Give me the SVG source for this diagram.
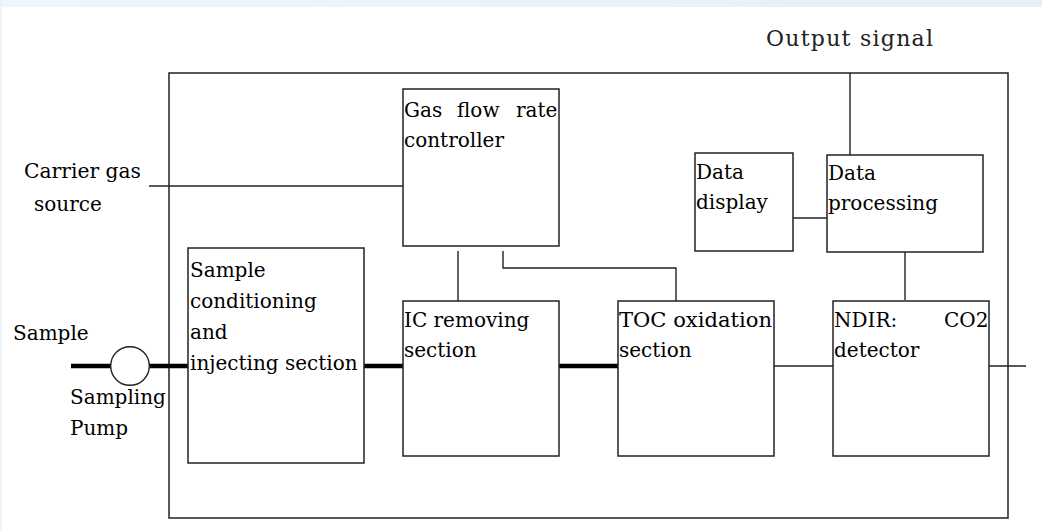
<svg xmlns="http://www.w3.org/2000/svg" width="1042" height="531" viewBox="0 0 1042 531">
<defs>
<linearGradient id="band" x1="0" y1="0" x2="1" y2="0">
<stop offset="0" stop-color="#F0F5FC"/>
<stop offset="1" stop-color="#E5EFFA"/>
</linearGradient>
<style>
.box{fill:#fff;stroke:#222;stroke-width:1.5}
.ln{fill:none;stroke:#222;stroke-width:1.4}
.thick{fill:none;stroke:#000;stroke-width:4.5}
text{font-family:"DejaVu Serif","Liberation Serif",serif;font-size:20px;fill:#000}
.lbl{fill:#222;font-size:22px}
</style>
</defs>
<rect x="0" y="0" width="1042" height="531" fill="#fff"/>
<rect x="0" y="0" width="1042" height="7" fill="url(#band)"/>
<rect x="0" y="0" width="2" height="531" fill="#EEF3FA"/>

<rect id="frame" x="169" y="73" width="839" height="445" fill="none" stroke="#222" stroke-width="1.5"/>

<g id="connectors">
<line class="ln" x1="149" y1="186" x2="403" y2="186"/>
<line class="thick" x1="71" y1="366" x2="111" y2="366"/>
<line class="thick" x1="149" y1="366" x2="188" y2="366"/>
<line class="thick" x1="364" y1="366" x2="403" y2="366"/>
<line class="thick" x1="559" y1="366" x2="618" y2="366"/>
<line class="ln" x1="774" y1="366" x2="833" y2="366"/>
<line class="ln" x1="989" y1="366" x2="1026" y2="366"/>
<line class="ln" x1="458" y1="251" x2="458" y2="308"/>
<polyline class="ln" points="503,251 503,268 676,268 676,307"/>
<line class="ln" x1="850" y1="73" x2="850" y2="155"/>
<line class="ln" x1="793" y1="218" x2="827" y2="218"/>
<rect x="827" y="215" width="4" height="4" fill="#000"/>
<line class="ln" x1="905" y1="252" x2="905" y2="300"/>
</g>

<g id="pump">
<circle cx="130" cy="366" r="19.3" fill="#fff" stroke="#222" stroke-width="1.4"/>
</g>

<g id="output-signal"><text class="lbl" x="766" y="46" textLength="167" lengthAdjust="spacing">Output signal</text></g>
<g id="carrier-gas"><text x="24" y="178" textLength="117" lengthAdjust="spacingAndGlyphs">Carrier gas</text><text x="34" y="211">source</text></g>
<g id="sample-label"><text x="13" y="340">Sample</text></g>
<g id="pump-label"><text x="70" y="404">Sampling</text><text x="70" y="435">Pump</text></g>

<g id="gas-flow">
<rect class="box" x="403" y="89" width="156" height="157"/>
<text y="117"><tspan x="404">Gas</tspan><tspan x="457">flow</tspan><tspan x="516">rate</tspan></text>
<text x="404" y="147">controller</text>
</g>

<g id="sample-cond">
<rect class="box" x="188" y="248" width="176" height="215"/>
<text x="190" y="277">Sample</text>
<text x="190" y="308">conditioning</text>
<text x="190" y="339">and</text>
<text x="190" y="370">injecting section</text>
</g>

<g id="ic-removing">
<rect class="box" x="403" y="301" width="156" height="155"/>
<text x="404" y="327">IC removing</text>
<text x="404" y="357">section</text>
</g>

<g id="toc-oxidation">
<rect class="box" x="618" y="301" width="156" height="155"/>
<text x="619" y="327" textLength="153" lengthAdjust="spacingAndGlyphs">TOC oxidation</text>
<text x="619" y="357">section</text>
</g>

<g id="ndir">
<rect class="box" x="833" y="301" width="156" height="155"/>
<text y="327"><tspan x="834">NDIR:</tspan><tspan x="944">CO2</tspan></text>
<text x="834" y="357">detector</text>
</g>

<g id="data-display">
<rect class="box" x="695" y="153" width="98" height="98"/>
<text x="696" y="179">Data</text>
<text x="696" y="209">display</text>
</g>

<g id="data-processing">
<rect class="box" x="827" y="155" width="156" height="97"/>
<text x="828" y="180">Data</text>
<text x="828" y="210">processing</text>
</g>
</svg>
